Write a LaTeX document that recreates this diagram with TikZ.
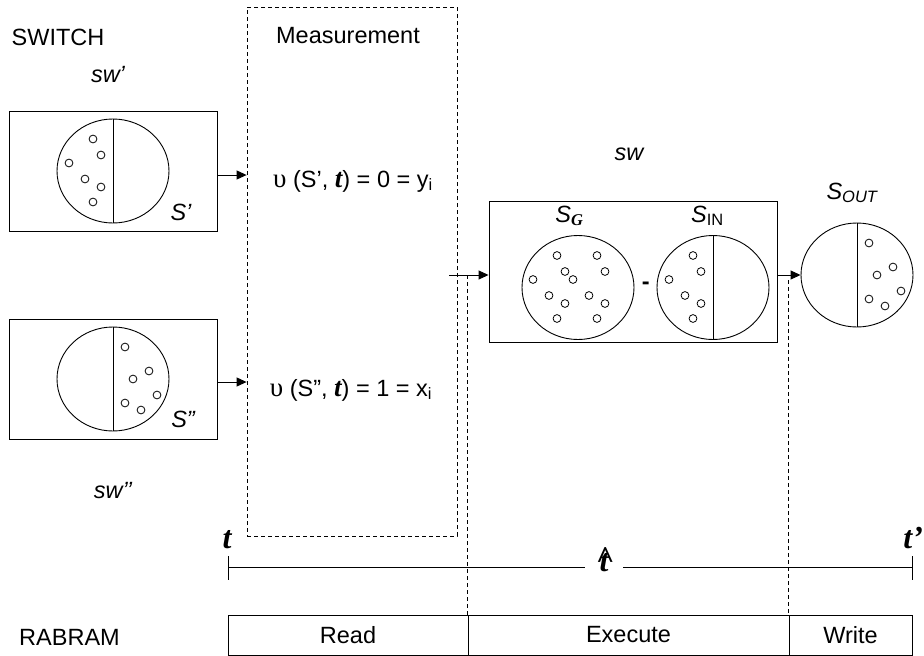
\documentclass[tikz,border=0pt]{standalone}
\usepackage{fontspec}
\setmainfont{Liberation Sans}
\newfontfamily\serf{Liberation Serif}
\usetikzlibrary{shapes.geometric,arrows.meta,calc}

\begin{document}
\begin{tikzpicture}[x=1pt,y=-1pt,line width=0.9pt,
  every node/.style={font=\fontsize{23.5}{28}\selectfont,inner sep=0pt},
  frame/.style={draw,rectangle,inner sep=0pt},
  ball/.style={draw,ellipse,minimum width=112pt,minimum height=104pt,inner sep=0pt},
  dot/.style={draw,circle,minimum size=7.8pt,inner sep=0pt,line width=0.8pt},
  arr/.style={-{Triangle[length=10pt,width=9pt]}},
  dsh/.style={dash pattern=on 4pt off 3pt,line width=0.8pt},
  lbl/.style={anchor=base},
  tbig/.style={font=\fontsize{32}{36}\selectfont\serf\bfseries\itshape},
]
\useasboundingbox (0,0) rectangle (924,656);

% ---------- switch side ----------
\node[lbl] (switch) at (58,45) {SWITCH};
\node[lbl] (swa) at (108,82) {\itshape sw’};
\node[lbl] (swb) at (113,498) {\itshape sw’’};

\node[frame,minimum width=208pt,minimum height=120pt] (box1) at (113,171) {};
\node[ball] (c1) at (113,171) {};
\draw (c1.north) -- (c1.south);
\foreach \dx/\dy [count=\k] in {-20/-32,-12/-16,-44/-8,-28/8,-12/16,-20/31}
  \node[dot] (c1d\k) at ($(c1.center)+(\dx,\dy)$) {};
\node[lbl] (s1) at (181,220) {\itshape S’};

\node[frame,minimum width=208pt,minimum height=120pt] (box2) at (113,379) {};
\node[ball] (c2) at (113,379) {};
\draw (c2.north) -- (c2.south);
\foreach \dx/\dy [count=\k] in {12/-32,36/-8,20/0,44/16,12/24,28/31}
  \node[dot] (c2d\k) at ($(c2.center)+(\dx,\dy)$) {};
\node[lbl] (s2) at (183,427) {\itshape S”};

% ---------- measurement ----------
\node[frame,dsh,minimum width=210pt,minimum height=529pt] (mbox) at (352,271.5) {};
\node[lbl] (mlabel) at (348,43) {Measurement};
\node[lbl] (eq1) at (353,187)
  {{\fontsize{27}{30}\selectfont\serf υ} (S’, {\fontsize{27}{30}\selectfont\serf\bfseries\itshape t}) = 0 = y\textsubscript{i}};
\node[lbl] (eq2) at (351,396)
  {{\fontsize{27}{30}\selectfont\serf υ} (S”, {\fontsize{27}{30}\selectfont\serf\bfseries\itshape t}) = 1 = x\textsubscript{i}};

\draw[arr] ([yshift=-4pt]box1.east) -- ([yshift=-4pt]box1.east -| mbox.west);
\draw[arr] ([yshift=-3pt]box2.east) -- ([yshift=-3pt]box2.east -| mbox.west);

% ---------- execution ----------
\node[lbl] (swc) at (629,160) {\itshape sw};
\node[frame,minimum width=288pt,minimum height=141pt] (box3) at (633,271.5) {};

\node[ball] (sg) at (578,287.5) {};
\foreach \dx/\dy [count=\k] in {-21/-32,-13/-16,-45/-8,-29/8,-13/16,-21/31,
                                19/-32,27/-16,-5/-8,11/8,27/16,19/31}
  \node[dot] (sgd\k) at ($(sg.center)+(\dx,\dy)$) {};
\node[lbl] (sglabel) at (569.5,222) {\itshape S\textsubscript{\serf\bfseries G}};

\node (minus) at (645.7,286) {\bfseries -};

\node[ball] (sin) at (713,287.5) {};
\draw (sin.north) -- (sin.south);
\foreach \dx/\dy [count=\k] in {-20/-32,-12/-16,-44/-8,-28/8,-12/16,-20/31}
  \node[dot] (sind\k) at ($(sin.center)+(\dx,\dy)$) {};
\node[lbl] (sinlabel) at (707.5,222) {\itshape S\textsubscript{\upshape IN}};

\node[ball] (sout) at (857,275) {};
\draw (sout.north) -- (sout.south);
\foreach \dx/\dy [count=\k] in {12/-32,36/-8,20/0,44/16,12/24,28/31}
  \node[dot] (soutd\k) at ($(sout.center)+(\dx,\dy)$) {};
\node[lbl] (soutlabel) at (852,199) {\itshape S\textsubscript{OUT}};

\coordinate (feed) at (449,275);
\draw[arr] (feed) -- (feed -| box3.west);
\draw[arr] (box3.east |- sout.center) -- (sout.west);

% ---------- time line ----------
\coordinate (t0) at (228,567.7);
\coordinate (t1) at (912,567.7);
\draw (t0) ++(0,-11.7) -- ++(0,24);
\draw (t1) ++(0,-11.7) -- ++(0,24);
\node[tbig,anchor=base,minimum width=38pt] (that) at (604,571.7) {\accent"5E t};
\draw (t0) -- (that.west |- t0);
\draw (that.east |- t1) -- (t1);
\node[tbig,anchor=base] (tstart) at (227,548) {t};
\node[tbig,anchor=base west] (tend) at (903,548) {t’};

% ---------- RABRAM phases ----------
\node[lbl] (rabram) at (69.5,645) {RABRAM};
\node[frame,minimum width=240pt,minimum height=40pt] (read) at (348,635) {Read};
\node[frame,minimum width=321pt,minimum height=40pt] (exec) at (628.5,635) {Execute};
\node[frame,minimum width=123pt,minimum height=40pt] (write) at (850.5,635) {Write};

\draw[dsh] (feed -| exec.north west) -- (exec.north west);
\draw[dsh] ([yshift=-5pt]sout.center -| write.north west) -- (write.north west);
\end{tikzpicture}
\end{document}
